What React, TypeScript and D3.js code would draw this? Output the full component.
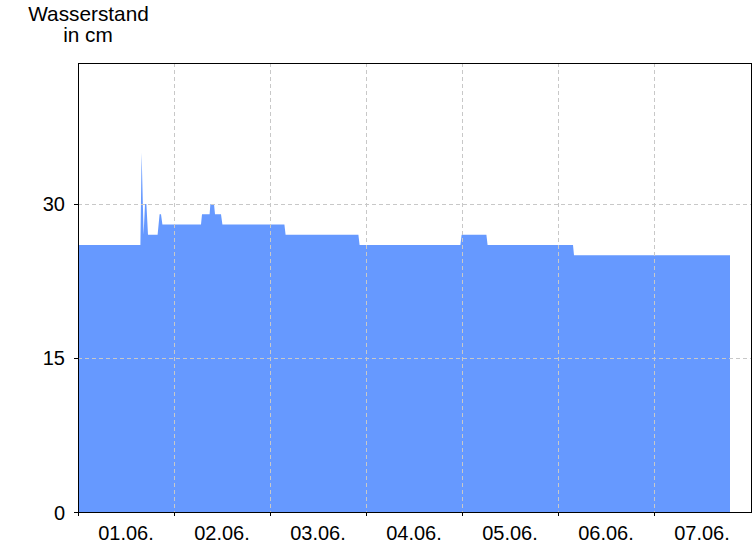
import React from "react";
import * as d3 from "d3";

// hours since 01.06. 00:00
const hours = [0, 15.6, 15.9, 16.4, 16.75, 17.1, 17.5, 19.9, 20.4, 20.75, 21.1, 30.75, 31, 32.9, 33.1, 34, 34.25, 35.75, 36.1, 51.6, 51.9, 70.1, 70.4, 95.6, 95.9, 102.1, 102.4, 123.75, 124, 163];
const levels = [26, 26, 35, 27, 30, 30, 27, 27, 29, 29, 28, 28, 29, 29, 30, 30, 29, 29, 28, 28, 27, 27, 26, 26, 27, 27, 26, 26, 25, 25];
const dayLabels = ["01.06.", "02.06.", "03.06.", "04.06.", "05.06.", "06.06.", "07.06."];
const yTicks = [0, 15, 30];

export default function App() {
  const W = 756, H = 546;
  const L = 78, R = 751, T = 63, B = 512;
  const x = d3.scaleLinear().domain([0, 168]).range([L, L + 672]);
  const y = d3.scaleLinear().domain([0, 43.73]).range([B, T]);
  const data = hours.map((h, i) => ({ h, v: levels[i] }));
  const area = d3.area<{ h: number; v: number }>().x(d => x(d.h)).y0(y(0)).y1(d => y(d.v));
  const dayTicks = d3.range(0, 8).map(d => d * 24);
  const font = "Liberation Sans, Arial, sans-serif";
  return (
    <svg width={W} height={H} style={{ position: "absolute", left: 0, top: 0 }}>
      <rect width={W} height={H} fill="#fff" />
      <path d={area(data) || ""} fill="#6699ff" />
      {yTicks.filter(t => t > 0).map(t => (
        <line key={"gy" + t} x1={L} x2={R} y1={Math.round(y(t)) + 0.5} y2={Math.round(y(t)) + 0.5} stroke="#c8c8c8" strokeDasharray="4,3" />
      ))}
      {dayTicks.slice(1, 7).map(t => (
        <line key={"gx" + t} x1={Math.round(x(t)) + 0.5} x2={Math.round(x(t)) + 0.5} y1={T} y2={B} stroke="#c8c8c8" strokeDasharray="4,3" />
      ))}
      <rect x={L + 0.5} y={T + 0.5} width={R - L} height={B - T} fill="none" stroke="#000" strokeWidth={1} />
      {yTicks.map(t => (
        <g key={"yt" + t}>
          <line x1={L - 4} x2={L} y1={Math.round(y(t)) + 0.5} y2={Math.round(y(t)) + 0.5} stroke="#000" />
          <text x={L - 13} y={y(t) + 7.5} textAnchor="end" fontFamily={font} fontSize={20} fill="#000">{t}</text>
        </g>
      ))}
      {dayTicks.slice(0, 7).map(t => (
        <line key={"xt" + t} x1={Math.round(x(t)) + 0.5} x2={Math.round(x(t)) + 0.5} y1={B} y2={B + 4} stroke="#000" />
      ))}
      {dayLabels.map((d, i) => (
        <text key={d} x={x(i * 24 + 12)} y={540} textAnchor="middle" fontFamily={font} fontSize={20} fill="#000">{d}</text>
      ))}
      <text x={88.5} y={21} textAnchor="middle" fontFamily={font} fontSize={20.8} fill="#000">Wasserstand</text>
      <text x={88} y={42} textAnchor="middle" fontFamily={font} fontSize={20.8} fill="#000">in cm</text>
    </svg>
  );
}
